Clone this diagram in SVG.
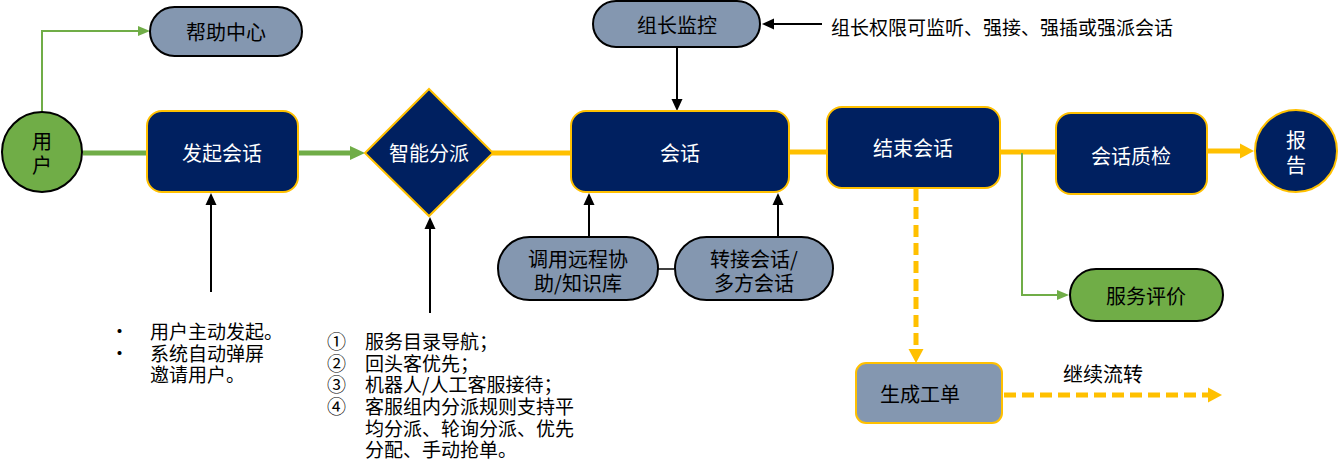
<svg xmlns="http://www.w3.org/2000/svg" width="1338" height="475" viewBox="0 0 1338 475">
  <style>
    text { font-family: "Noto Sans CJK SC", "Noto Sans", sans-serif; }
    .lbl { font-size: 20px; text-anchor: middle; dominant-baseline: central; }
    .w { fill: #FFFFFF; }
    .k { fill: #000000; }
    .note { font-size: 19px; fill: #000000; dominant-baseline: central; }
    .navy { fill: #002060; stroke: #FFC000; stroke-width: 2; }
    .grayk { fill: #8497B0; stroke: #000000; stroke-width: 2; }
    .grayy { fill: #8497B0; stroke: #FFC000; stroke-width: 2; }
    .greenk { fill: #70AD47; stroke: #000000; stroke-width: 2; }
    .gthin { fill: none; stroke: #70AD47; stroke-width: 2; }
    .gthick { fill: none; stroke: #70AD47; stroke-width: 5; }
    .ythick { fill: none; stroke: #FFC000; stroke-width: 5; }
    .ydash { fill: none; stroke: #FFC000; stroke-width: 5; stroke-dasharray: 12 6; }
    .blk { fill: none; stroke: #000000; stroke-width: 2; }
  </style>
  <defs>
    <marker id="gSmall" markerUnits="userSpaceOnUse" markerWidth="12" markerHeight="12" refX="0" refY="6" orient="auto">
      <path d="M0,1 L12,6 L0,11 Z" fill="#70AD47"/>
    </marker>
    <marker id="gBig" markerUnits="userSpaceOnUse" markerWidth="15" markerHeight="16" refX="0" refY="8" orient="auto">
      <path d="M0,1 L15,8 L0,15 Z" fill="#70AD47"/>
    </marker>
    <marker id="yBig" markerUnits="userSpaceOnUse" markerWidth="14" markerHeight="16" refX="0" refY="8" orient="auto">
      <path d="M0,0.5 L14,8 L0,15.5 Z" fill="#FFC000"/>
    </marker>
    <marker id="kArr" markerUnits="userSpaceOnUse" markerWidth="12" markerHeight="12" refX="0" refY="6" orient="auto">
      <path d="M0,0.5 L12,6 L0,11.5 Z" fill="#000000"/>
    </marker>
  </defs>

  <g id="connectors">
    <polyline class="gthin" points="42,112 42,31 138,31" marker-end="url(#gSmall)"/>
    <line class="gthick" x1="83" y1="153" x2="147" y2="153"/>
    <line class="gthick" x1="298" y1="153" x2="350" y2="153" marker-end="url(#gBig)"/>
    <line class="ythick" x1="492" y1="153" x2="571" y2="153"/>
    <line class="ythick" x1="789" y1="152" x2="827" y2="152"/>
    <line class="ythick" x1="1000" y1="152" x2="1056" y2="152"/>
    <line class="ythick" x1="1207" y1="151" x2="1240" y2="151" marker-end="url(#yBig)"/>
    <polyline class="gthin" points="1022,153 1022,295 1057,295" marker-end="url(#gSmall)"/>
    <line class="ydash" x1="916" y1="189" x2="916" y2="349" marker-end="url(#yBig)"/>
    <line class="ydash" x1="1004" y1="395" x2="1208" y2="395" marker-end="url(#yBig)"/>
    <line class="blk" x1="211" y1="292" x2="211" y2="205" marker-end="url(#kArr)"/>
    <line class="blk" x1="430" y1="313" x2="430" y2="229" marker-end="url(#kArr)"/>
    <line class="blk" x1="589" y1="237" x2="589" y2="205" marker-end="url(#kArr)"/>
    <line class="blk" x1="778" y1="237" x2="778" y2="205" marker-end="url(#kArr)"/>
    <line class="blk" x1="677" y1="47" x2="677" y2="99" marker-end="url(#kArr)"/>
    <line class="blk" x1="822" y1="24" x2="774" y2="24" marker-end="url(#kArr)"/>
    <line x1="658" y1="269" x2="674" y2="269" stroke="#404040" stroke-width="2"/>
  </g>

  <g id="user">
    <circle class="greenk" cx="42" cy="152" r="40"/>
    <text class="lbl k"><tspan x="42" y="140">用</tspan><tspan x="42" y="164">户</tspan></text>
  </g>

  <g id="help-center">
    <rect class="grayk" x="150" y="7" width="152" height="49" rx="24.5"/>
    <text class="lbl k" x="226" y="31">帮助中心</text>
  </g>

  <g id="start-session">
    <rect class="navy" x="147" y="111" width="151" height="81" rx="15"/>
    <text class="lbl w" x="222" y="152">发起会话</text>
  </g>

  <g id="smart-dispatch">
    <polygon class="navy" points="365,153 429,89 493,153 429,216"/>
    <text class="lbl w" x="429" y="152">智能分派</text>
  </g>

  <g id="session">
    <rect class="navy" x="571" y="111" width="218" height="81" rx="15"/>
    <text class="lbl w" x="680" y="152">会话</text>
  </g>

  <g id="leader-monitor">
    <rect class="grayk" x="593" y="1" width="167" height="46" rx="23"/>
    <text class="lbl k" x="677" y="24">组长监控</text>
  </g>

  <g id="leader-note">
    <text class="note" x="831" y="26">组长权限可监听、强接、强插或强派会话</text>
  </g>

  <g id="remote-assist">
    <rect class="grayk" x="498" y="237" width="160" height="63" rx="31.5"/>
    <text class="lbl k"><tspan x="578" y="258">调用远程协</tspan><tspan x="578" y="282">助/知识库</tspan></text>
  </g>

  <g id="transfer">
    <rect class="grayk" x="675" y="237" width="158" height="63" rx="31.5"/>
    <text class="lbl k"><tspan x="754" y="258">转接会话/</tspan><tspan x="754" y="282">多方会话</tspan></text>
  </g>

  <g id="end-session">
    <rect class="navy" x="827" y="107" width="173" height="81" rx="15"/>
    <text class="lbl w" x="913" y="147">结束会话</text>
  </g>

  <g id="quality-check">
    <rect class="navy" x="1056" y="113" width="151" height="81" rx="15"/>
    <text class="lbl w" x="1131" y="155">会话质检</text>
  </g>

  <g id="report">
    <circle class="navy" cx="1296" cy="151" r="41"/>
    <text class="lbl w"><tspan x="1296" y="139">报</tspan><tspan x="1296" y="164">告</tspan></text>
  </g>

  <g id="service-rating">
    <rect class="greenk" x="1070" y="269" width="153" height="52" rx="26"/>
    <text class="lbl k" x="1146" y="295">服务评价</text>
  </g>

  <g id="work-order">
    <rect class="grayy" x="856" y="363" width="146" height="60" rx="10"/>
    <text class="lbl k" x="920" y="393">生成工单</text>
  </g>

  <g id="continue-label">
    <text class="lbl k" x="1103" y="373">继续流转</text>
  </g>

  <g id="start-notes">
    <text class="note"><tspan x="110" y="330">•</tspan><tspan x="150" y="330">用户主动发起。</tspan><tspan x="110" y="352">•</tspan><tspan x="150" y="352">系统自动弹屏</tspan><tspan x="150" y="373">邀请用户。</tspan></text>
  </g>

  <g id="dispatch-notes">
    <text class="note"><tspan x="327" y="340">①</tspan><tspan x="365" y="340">服务目录导航；</tspan><tspan x="327" y="362">②</tspan><tspan x="365" y="362">回头客优先；</tspan><tspan x="327" y="383">③</tspan><tspan x="365" y="383">机器人/人工客服接待；</tspan><tspan x="327" y="405">④</tspan><tspan x="365" y="405">客服组内分派规则支持平</tspan><tspan x="365" y="427">均分派、轮询分派、优先</tspan><tspan x="365" y="448">分配、手动抢单。</tspan></text>
  </g>
</svg>
